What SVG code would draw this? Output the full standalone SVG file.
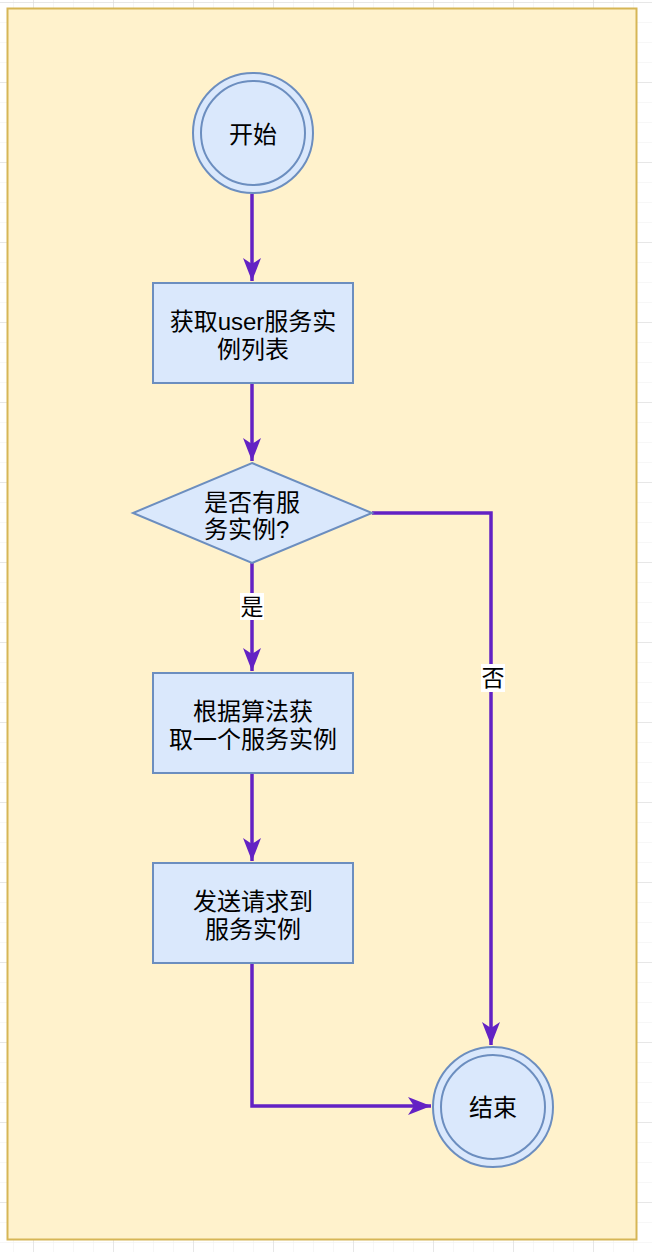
<svg xmlns="http://www.w3.org/2000/svg" width="652" height="1252" viewBox="0 0 652 1252">
  <defs>
    <pattern id="minor" width="20" height="20" patternUnits="userSpaceOnUse" x="13" y="2">
      <path d="M0,0 H20 M0,0 V20" fill="none" stroke="#efefef" stroke-width="1"/>
    </pattern>
    <pattern id="major" width="80" height="80" patternUnits="userSpaceOnUse" x="33" y="2">
      <path d="M0,0 H80 M0,0 V80" fill="none" stroke="#d8d8d8" stroke-width="1"/>
    </pattern>
    <marker id="arrow" markerUnits="userSpaceOnUse" markerWidth="26" markerHeight="20" refX="23" refY="10" orient="auto">
      <path d="M0,1 L23,10 L0,19 L6,10 Z" fill="#6322c4"/>
    </marker>
  </defs>
  <style>
    .node { fill: #dae8fc; stroke: #6c8ebf; stroke-width: 2; }
    .txt { font-family: "Liberation Sans", "Noto Sans CJK SC", sans-serif; font-size: 24px; fill: #000; text-anchor: middle; }
    .txt.left { text-anchor: start; }
    .lbl { font-family: "Liberation Sans", "Noto Sans CJK SC", sans-serif; font-size: 23px; fill: #000; text-anchor: middle; }
    .edge { fill: none; stroke: #6322c4; stroke-width: 3.5; }
  </style>
  <rect x="0" y="0" width="652" height="1252" fill="#ffffff"/>
  <rect x="0" y="0" width="652" height="1252" fill="url(#minor)"/>
  <rect x="0" y="0" width="652" height="1252" fill="url(#major)"/>
  <rect id="panel" x="7.5" y="8.5" width="629" height="1231" fill="#fff2cc" stroke="#d6b656" stroke-width="2"/>

  <g id="connectors">
    <path class="edge" d="M252,194 V281" marker-end="url(#arrow)"/>
    <path class="edge" d="M252,384 V461" marker-end="url(#arrow)"/>
    <path class="edge" d="M252,563 V671" marker-end="url(#arrow)"/>
    <path class="edge" d="M252,774 V861" marker-end="url(#arrow)"/>
    <path class="edge" d="M372,513 H491 V1045" marker-end="url(#arrow)"/>
    <path class="edge" d="M252,964 V1106 H431" marker-end="url(#arrow)"/>
    <g id="label-yes">
      <rect x="240" y="593" width="24" height="27" fill="#ffffff"/>
      <text class="lbl" x="252" y="615">是</text>
    </g>
    <g id="label-no">
      <rect x="481" y="664" width="24" height="28" fill="#ffffff"/>
      <text class="lbl" x="493" y="686">否</text>
    </g>
  </g>

  <g id="start">
    <circle class="node" cx="253" cy="133" r="60"/>
    <circle cx="253" cy="133" r="52" fill="none" stroke="#6c8ebf" stroke-width="2"/>
    <text class="txt" x="253" y="143">开始</text>
  </g>

  <g id="get-list">
    <rect class="node" x="153" y="283" width="200" height="100"/>
    <text class="txt" x="253" y="330">获取user服务实</text>
    <text class="txt" x="253" y="358">例列表</text>
  </g>

  <g id="has-instance">
    <polygon class="node" points="252,463 372,513 252,563 133,513"/>
    <text class="txt left" x="204" y="511">是否有服</text>
    <text class="txt left" x="204" y="538">务实例?</text>
  </g>

  <g id="pick-instance">
    <rect class="node" x="153" y="673" width="200" height="100"/>
    <text class="txt" x="253" y="720">根据算法获</text>
    <text class="txt" x="253" y="748">取一个服务实例</text>
  </g>

  <g id="send-request">
    <rect class="node" x="153" y="863" width="200" height="100"/>
    <text class="txt" x="253" y="910">发送请求到</text>
    <text class="txt" x="253" y="938">服务实例</text>
  </g>

  <g id="end">
    <circle class="node" cx="493" cy="1107" r="60"/>
    <circle cx="493" cy="1107" r="52" fill="none" stroke="#6c8ebf" stroke-width="2"/>
    <text class="txt" x="493" y="1116">结束</text>
  </g>
</svg>
